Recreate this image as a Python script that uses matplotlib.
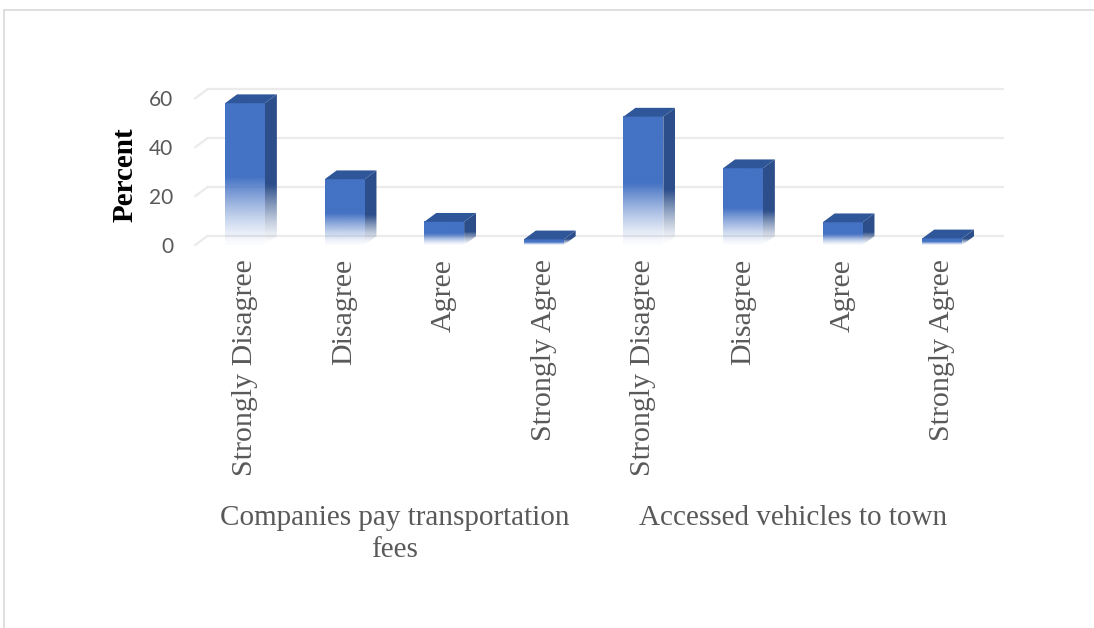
import numpy as np
import matplotlib
matplotlib.use("Agg")
import matplotlib.pyplot as plt
from matplotlib.patches import Polygon
from matplotlib.lines import Line2D
from matplotlib.transforms import blended_transform_factory

# survey data (percent)
categories = ["Strongly Disagree", "Disagree", "Agree", "Strongly Agree"]
groups = ["Companies pay transportation\nfees", "Accessed vehicles to town"]
transport_fees = [58.0, 26.9, 9.5, 2.3]
vehicles_to_town = [52.5, 31.4, 9.3, 2.7]
y_ticks = [0, 20, 40, 60]

values = transport_fees + vehicles_to_town
labels = categories * 2
x = np.arange(len(values))

# look of the fake 3d bars
front_col = "#4472C4"
side_col = "#2C4E8A"
top_col = "#2F5699"
grid_col = "#EBEBEB"
text_col = "#595959"
bar_w = 0.4
depth_x = 0.12
depth_y = 3.6

W, H = 1094, 628
fig = plt.figure(figsize=(W / 100, H / 100), dpi=100)

# chart frame (only top and left edges are visible)
fig.add_artist(Line2D([4 / W, 1.0], [1 - 10 / H, 1 - 10 / H], transform=fig.transFigure,
                      color="#D9D9D9", lw=1.2))
fig.add_artist(Line2D([4 / W, 4 / W], [0.0, 1 - 10 / H], transform=fig.transFigure,
                      color="#D9D9D9", lw=1.2))

# pixel layout of the plot area
px_cat = 99.6       # pixels per category
px_unit = 2.445     # pixels per percent
x0_px, y0_px = 245, 245   # where x=0, y=0 lands
left_px, right_px, top_px, bot_px = 190, 1012, 80, 252

ax = fig.add_axes([left_px / W, 1 - bot_px / H, (right_px - left_px) / W, (bot_px - top_px) / H])
xlim = ((left_px - x0_px) / px_cat, (right_px - x0_px) / px_cat)
ylim = ((y0_px - bot_px) / px_unit, (y0_px - top_px) / px_unit)


def fade(n, solid_frac, end_alpha):
    # alpha ramp from bottom (index 0) to top
    t = np.linspace(0, 1, n)
    a = np.where(t >= 1 - solid_frac, 1.0, end_alpha + (1 - end_alpha) * (t / (1 - solid_frac)) ** 1.3)
    return a


def grad_img(color, alpha):
    rgb = matplotlib.colors.to_rgb(color)
    img = np.zeros((len(alpha), 1, 4))
    img[:, 0, :3] = rgb
    img[:, 0, 3] = alpha
    return img


# gridlines on the back wall plus the little floor diagonal on the left
for t in y_ticks:
    ax.plot([-0.5 + depth_x, len(values) - 0.5 + depth_x], [t + depth_y, t + depth_y],
            color=grid_col, lw=1.6, zorder=1, solid_capstyle="butt")
    ax.plot([-0.5, -0.5 + depth_x], [t, t + depth_y], color=grid_col, lw=1.6, zorder=1)

for xi, v in zip(x, values):
    xl, xr = xi - bar_w / 2, xi + bar_w / 2
    # front face with fade to white at the bottom
    ax.imshow(grad_img(front_col, fade(200, 0.52, 0.02)), origin="lower",
              extent=[xl, xr, 0, v], aspect="auto", interpolation="bilinear", zorder=3)
    # side face
    side = Polygon([(xr, 0), (xr + depth_x, depth_y), (xr + depth_x, v + depth_y), (xr, v)],
                   closed=True, facecolor="none", edgecolor="none")
    ax.add_patch(side)
    im = ax.imshow(grad_img(side_col, fade(200, 0.6, 0.0)), origin="lower",
                   extent=[xr, xr + depth_x, 0, v + depth_y], aspect="auto",
                   interpolation="bilinear", zorder=3)
    im.set_clip_path(side)
    # top face
    ax.add_patch(Polygon([(xl, v), (xr, v), (xr + depth_x, v + depth_y), (xl + depth_x, v + depth_y)],
                         closed=True, facecolor=top_col, edgecolor="none", zorder=4))

ax.set_xlim(*xlim)
ax.set_ylim(*ylim)
ax.set_aspect("auto")
for s in ax.spines.values():
    s.set_visible(False)

ax.set_yticks(y_ticks)
ax.set_yticklabels([str(t) for t in y_ticks], fontsize=15, color=text_col, family="Lato")
ax.tick_params(axis="y", length=0, pad=12)
ax.set_xticks(x)
ax.set_xticklabels(labels, rotation=90, fontsize=21.5, color=text_col, family="Liberation Serif")
ax.tick_params(axis="x", length=0, pad=5)

# group names under each block of four bars
tr = blended_transform_factory(ax.transData, fig.transFigure)
for gi, g in enumerate(groups):
    ax.text(gi * 4 + 1.5, 1 - 505 / H, g, transform=tr, ha="center", va="top",
            multialignment="center", fontsize=21, color=text_col,
            family="Liberation Serif", linespacing=1.3)

fig.text(125 / W, 1 - 175 / H, "Percent", rotation=90, ha="center", va="center",
         fontsize=21, fontweight="bold", family="Liberation Serif", color="black")

fig.savefig("out.png", dpi=100)
